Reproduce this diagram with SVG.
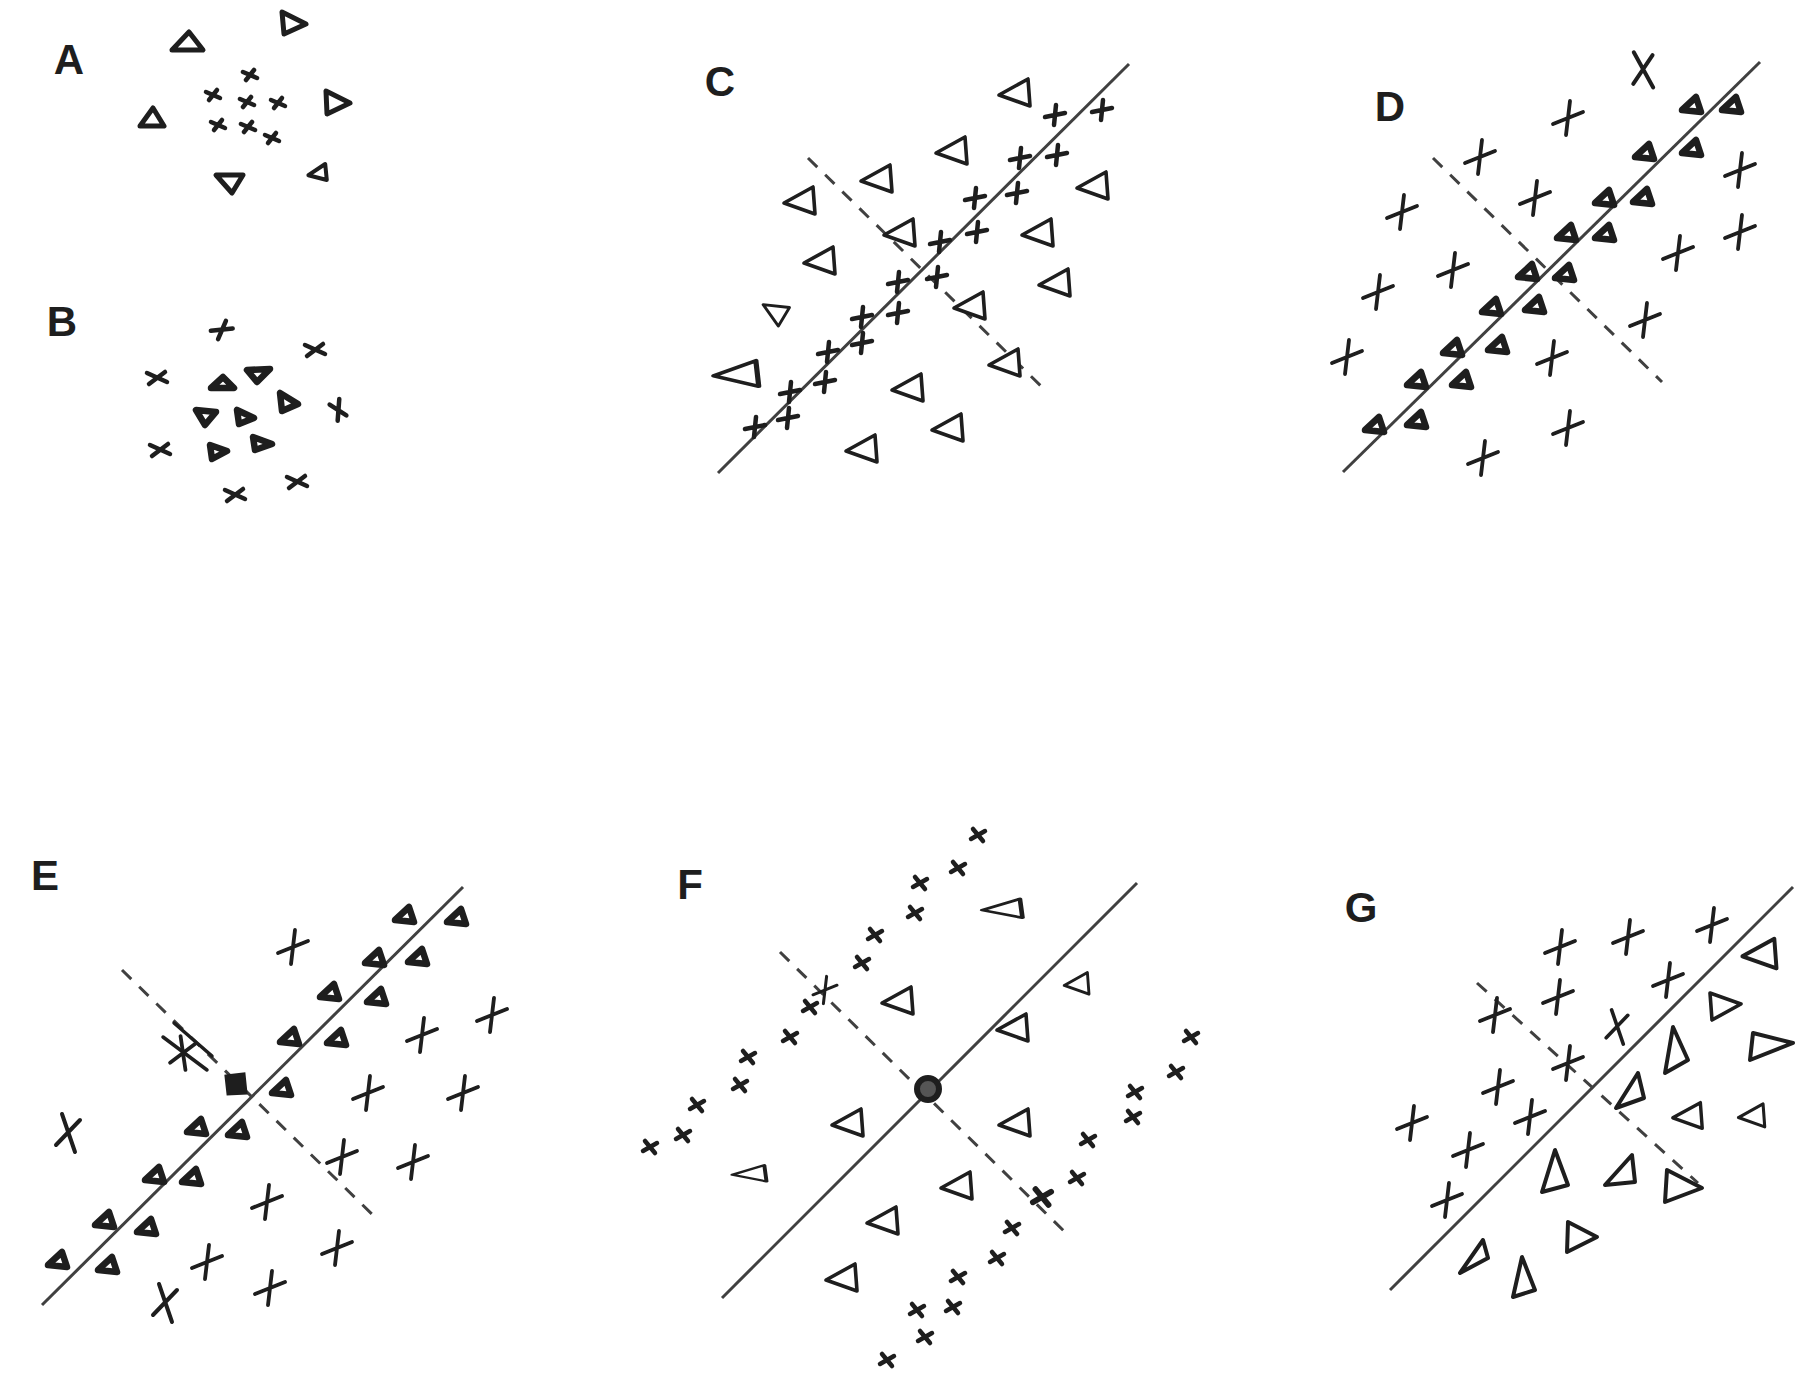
<svg xmlns="http://www.w3.org/2000/svg" width="1812" height="1374" viewBox="0 0 1812 1374">
<style>
.bg{fill:#ffffff}
.ln{stroke:#404040;stroke-width:3;fill:none}
.ds{stroke:#404040;stroke-width:3;fill:none;stroke-dasharray:13 11}
.lbl{font-family:"Liberation Sans",Arial,sans-serif;font-weight:bold;font-size:42px;fill:#1e1e1e;text-anchor:middle}
.ink{stroke:#1e1e1e;fill:none;stroke-linecap:round;stroke-linejoin:round}
.tri{stroke:#1e1e1e;fill:#ffffff;stroke-linejoin:round}
</style>
<defs>
<path id="xs" class="ink" stroke-width="4.5" d="M1,-10 L-1,10 M-10,2 L10,-2"/>
<path id="xf" class="ink" stroke-width="4.5" d="M-5,-6 L5,6 M-7,4 L7,-4"/>
<path id="xl" class="ink" stroke-width="3.8" d="M2,-17 L-2,17 M-15,6 L15,-6"/>
<path id="xx" class="ink" stroke-width="4" d="M-6,-19 L7,19 M-12,12 L12,-13"/>
<path id="xa" class="ink" stroke-width="4.5" d="M-7,-3 L7,3 M-4,5 L4,-5"/>
<path id="xb" class="ink" stroke-width="4.5" d="M-10,-5 L10,4 M-8,6 L8,-6"/>
<polygon id="tc" class="tri" stroke-width="3.6" points="-16,3 13,-13 15,14"/>
<polygon id="td" class="tri" stroke-width="6.5" points="-10,5 4,-8 9,7"/>
<polygon id="ta" class="tri" stroke-width="5" points="-12,4 9,-10 11,10"/>
</defs>
<rect class="bg" x="0" y="0" width="1812" height="1374"/>

<g id="panel-A">
<text class="lbl" x="69" y="74">A</text>
<polygon class="tri" stroke-width="5" points="172,50 189,32 203,50"/>
<polygon class="tri" stroke-width="5" points="282,12 284,34 306,24"/>
<polygon class="tri" stroke-width="5" points="140,126 153,108 164,126"/>
<polygon class="tri" stroke-width="5" points="326,91 327,114 350,103"/>
<polygon class="tri" stroke-width="5" points="216,175 243,175 232,193"/>
<use href="#ta" transform="translate(318,172) scale(0.8)"/>
<use href="#xa" x="250" y="75"/>
<use href="#xa" x="213" y="95"/>
<use href="#xa" x="247" y="102"/>
<use href="#xa" x="278" y="103"/>
<use href="#xa" x="218" y="125"/>
<use href="#xa" x="248" y="127"/>
<use href="#xa" x="272" y="138"/>
</g>

<g id="panel-B">
<text class="lbl" x="62" y="336">B</text>
<use href="#xb" transform="translate(222,330) rotate(-30)"/>
<use href="#xb" x="315" y="350"/>
<use href="#xb" x="157" y="378"/>
<use href="#xb" transform="translate(338,410) rotate(70)"/>
<use href="#xb" x="160" y="450"/>
<use href="#xb" x="297" y="482"/>
<use href="#xb" x="235" y="495"/>
<polygon class="tri" stroke-width="6.5" points="211,388 223,377 234,388"/>
<polygon class="tri" stroke-width="6.5" points="247,370 270,369 257,382"/>
<polygon class="tri" stroke-width="6.5" points="280,393 282,411 298,404"/>
<polygon class="tri" stroke-width="6.5" points="196,410 216,412 205,425"/>
<polygon class="tri" stroke-width="6.5" points="237,410 239,424 254,418"/>
<polygon class="tri" stroke-width="6.5" points="210,445 212,459 227,451"/>
<polygon class="tri" stroke-width="6.5" points="253,437 255,450 272,444"/>
</g>

<g id="panel-C">
<text class="lbl" x="720" y="96">C</text>
<line class="ln" x1="718" y1="473" x2="1129" y2="64"/>
<line class="ds" x1="808" y1="158" x2="1043" y2="388"/>
<use href="#tc" x="1015" y="92"/>
<use href="#tc" x="952" y="150"/>
<use href="#tc" x="877" y="178"/>
<use href="#tc" x="800" y="200"/>
<use href="#tc" x="1093" y="185"/>
<use href="#tc" x="900" y="232"/>
<use href="#tc" x="1038" y="232"/>
<use href="#tc" x="820" y="260"/>
<use href="#tc" x="1055" y="282"/>
<use href="#tc" transform="translate(775,310) rotate(35) scale(0.8)"/>
<use href="#tc" x="970" y="305"/>
<use href="#tc" x="1005" y="362"/>
<use href="#tc" transform="translate(737,373) scale(1.45,0.95)"/>
<use href="#tc" x="908" y="387"/>
<use href="#tc" x="948" y="427"/>
<use href="#tc" x="862" y="448"/>
<use href="#xs" x="1055" y="115"/>
<use href="#xs" x="1102" y="110"/>
<use href="#xs" x="1020" y="158"/>
<use href="#xs" x="1057" y="155"/>
<use href="#xs" x="975" y="198"/>
<use href="#xs" x="1017" y="193"/>
<use href="#xs" x="940" y="242"/>
<use href="#xs" x="977" y="232"/>
<use href="#xs" x="898" y="282"/>
<use href="#xs" x="937" y="277"/>
<use href="#xs" x="862" y="317"/>
<use href="#xs" x="898" y="313"/>
<use href="#xs" x="828" y="352"/>
<use href="#xs" x="862" y="343"/>
<use href="#xs" x="790" y="392"/>
<use href="#xs" x="825" y="382"/>
<use href="#xs" x="755" y="427"/>
<use href="#xs" x="788" y="418"/>
</g>

<g id="panel-D">
<text class="lbl" x="1390" y="121">D</text>
<line class="ln" x1="1343" y1="472" x2="1760" y2="62"/>
<line class="ds" x1="1433" y1="158" x2="1662" y2="382"/>
<use href="#xx" transform="translate(1643,70) rotate(-10)"/>
<use href="#xl" x="1568" y="118"/>
<use href="#xl" x="1480" y="157"/>
<use href="#xl" x="1740" y="170"/>
<use href="#xl" x="1402" y="212"/>
<use href="#xl" x="1535" y="198"/>
<use href="#xl" x="1740" y="232"/>
<use href="#xl" x="1678" y="253"/>
<use href="#xl" x="1453" y="270"/>
<use href="#xl" x="1378" y="292"/>
<use href="#xl" x="1645" y="320"/>
<use href="#xl" x="1347" y="357"/>
<use href="#xl" x="1552" y="358"/>
<use href="#xl" x="1568" y="428"/>
<use href="#xl" x="1483" y="458"/>
<use href="#td" x="1692" y="105"/>
<use href="#td" x="1732" y="105"/>
<use href="#td" x="1645" y="152"/>
<use href="#td" x="1692" y="148"/>
<use href="#td" x="1605" y="198"/>
<use href="#td" x="1643" y="197"/>
<use href="#td" x="1567" y="233"/>
<use href="#td" x="1605" y="233"/>
<use href="#td" x="1528" y="272"/>
<use href="#td" x="1565" y="273"/>
<use href="#td" x="1492" y="307"/>
<use href="#td" x="1535" y="305"/>
<use href="#td" x="1453" y="348"/>
<use href="#td" x="1498" y="345"/>
<use href="#td" x="1417" y="380"/>
<use href="#td" x="1462" y="380"/>
<use href="#td" x="1375" y="425"/>
<use href="#td" x="1417" y="420"/>
</g>

<g id="panel-E">
<text class="lbl" x="45" y="890">E</text>
<line class="ln" x1="42" y1="1305" x2="463" y2="887"/>
<line class="ds" x1="122" y1="970" x2="378" y2="1220"/>
<line class="ink" stroke-width="3.5" x1="163" y1="1037" x2="207" y2="1070"/>
<line class="ink" stroke-width="3.5" x1="174" y1="1023" x2="212" y2="1056"/>
<use href="#xl" transform="translate(183,1053) rotate(-15)"/>
<polygon fill="#1e1e1e" stroke="#1e1e1e" stroke-width="3" points="226,1076 244,1074 246,1093 228,1094"/>
<use href="#td" x="405" y="915"/>
<use href="#td" x="457" y="917"/>
<use href="#td" x="375" y="958"/>
<use href="#td" x="418" y="957"/>
<use href="#td" x="330" y="992"/>
<use href="#td" x="377" y="997"/>
<use href="#td" x="290" y="1037"/>
<use href="#td" x="337" y="1038"/>
<use href="#td" x="282" y="1088"/>
<use href="#td" x="197" y="1127"/>
<use href="#td" x="238" y="1130"/>
<use href="#td" x="155" y="1175"/>
<use href="#td" x="192" y="1177"/>
<use href="#td" x="105" y="1220"/>
<use href="#td" x="147" y="1227"/>
<use href="#td" x="58" y="1260"/>
<use href="#td" x="108" y="1265"/>
<use href="#xl" x="293" y="947"/>
<use href="#xl" x="492" y="1015"/>
<use href="#xl" x="422" y="1035"/>
<use href="#xl" x="368" y="1093"/>
<use href="#xl" x="463" y="1093"/>
<use href="#xx" x="68" y="1133"/>
<use href="#xl" x="342" y="1157"/>
<use href="#xl" x="413" y="1162"/>
<use href="#xl" x="267" y="1202"/>
<use href="#xl" x="337" y="1248"/>
<use href="#xl" x="207" y="1262"/>
<use href="#xl" x="270" y="1288"/>
<use href="#xx" x="165" y="1303"/>
</g>

<g id="panel-F">
<text class="lbl" x="690" y="899">F</text>
<line class="ln" x1="722" y1="1298" x2="1137" y2="883"/>
<line class="ds" x1="780" y1="952" x2="1070" y2="1237"/>
<circle cx="928" cy="1089" r="11" fill="#555" stroke="#1e1e1e" stroke-width="6"/>
<use href="#tc" transform="translate(1003,908) scale(1.3,0.7)"/>
<use href="#tc" transform="translate(1077,983) scale(0.8)"/>
<use href="#tc" x="898" y="1000"/>
<use href="#tc" x="1013" y="1027"/>
<use href="#tc" x="848" y="1122"/>
<use href="#tc" x="1015" y="1122"/>
<use href="#tc" transform="translate(750,1173) scale(1.1,0.6)"/>
<use href="#tc" x="957" y="1185"/>
<use href="#tc" x="883" y="1220"/>
<use href="#tc" x="842" y="1277"/>
<use href="#xf" x="978" y="835"/>
<use href="#xf" x="958" y="868"/>
<use href="#xf" x="920" y="883"/>
<use href="#xf" x="915" y="913"/>
<use href="#xf" x="875" y="935"/>
<use href="#xf" x="862" y="963"/>
<use href="#xl" transform="translate(825,990) scale(0.8)"/>
<use href="#xf" x="810" y="1007"/>
<use href="#xf" x="790" y="1037"/>
<use href="#xf" x="748" y="1057"/>
<use href="#xf" x="740" y="1085"/>
<use href="#xf" x="697" y="1105"/>
<use href="#xf" x="683" y="1135"/>
<use href="#xf" x="650" y="1147"/>
<use href="#xf" x="1191" y="1037"/>
<use href="#xf" x="1176" y="1072"/>
<use href="#xf" x="1135" y="1092"/>
<use href="#xf" x="1133" y="1117"/>
<use href="#xf" x="1088" y="1140"/>
<use href="#xf" x="1077" y="1178"/>
<use href="#xf" transform="translate(1042,1197) scale(1.3)"/>
<use href="#xf" x="1012" y="1228"/>
<use href="#xf" x="997" y="1258"/>
<use href="#xf" x="958" y="1277"/>
<use href="#xf" x="953" y="1307"/>
<use href="#xf" x="917" y="1310"/>
<use href="#xf" x="925" y="1337"/>
<use href="#xf" x="887" y="1360"/>
</g>

<g id="panel-G">
<text class="lbl" x="1361" y="922">G</text>
<line class="ln" x1="1390" y1="1290" x2="1793" y2="887"/>
<line class="ds" x1="1477" y1="983" x2="1698" y2="1183"/>
<use href="#xl" x="1712" y="925"/>
<use href="#xl" x="1628" y="937"/>
<use href="#xl" x="1560" y="947"/>
<use href="#xl" x="1668" y="980"/>
<use href="#xl" x="1558" y="997"/>
<use href="#xl" x="1495" y="1015"/>
<use href="#xx" transform="translate(1617,1027) scale(0.9)"/>
<use href="#xl" x="1568" y="1063"/>
<use href="#xl" x="1498" y="1087"/>
<use href="#xl" x="1530" y="1117"/>
<use href="#xl" x="1412" y="1123"/>
<use href="#xl" x="1468" y="1150"/>
<use href="#xl" x="1447" y="1200"/>
<use href="#tc" transform="translate(1760,953) scale(1.1)"/>
<use href="#tc" transform="translate(1725,1007) rotate(180)"/>
<polygon class="tri" stroke-width="4" points="1753,1033 1793,1043 1750,1060"/>
<polygon class="tri" stroke-width="4" points="1673,1027 1665,1073 1688,1060"/>
<polygon class="tri" stroke-width="4" points="1638,1073 1616,1108 1644,1098"/>
<use href="#tc" transform="translate(1688,1115) scale(0.95)"/>
<use href="#tc" transform="translate(1752,1115) scale(0.85)"/>
<polygon class="tri" stroke-width="4" points="1555,1150 1542,1192 1568,1185"/>
<polygon class="tri" stroke-width="4" points="1605,1185 1632,1155 1635,1182"/>
<polygon class="tri" stroke-width="4" points="1667,1170 1665,1202 1702,1188"/>
<polygon class="tri" stroke-width="4" points="1568,1222 1567,1252 1597,1237"/>
<polygon class="tri" stroke-width="4" points="1483,1240 1460,1273 1488,1258"/>
<polygon class="tri" stroke-width="4" points="1522,1257 1513,1297 1535,1290"/>
</g>
</svg>
